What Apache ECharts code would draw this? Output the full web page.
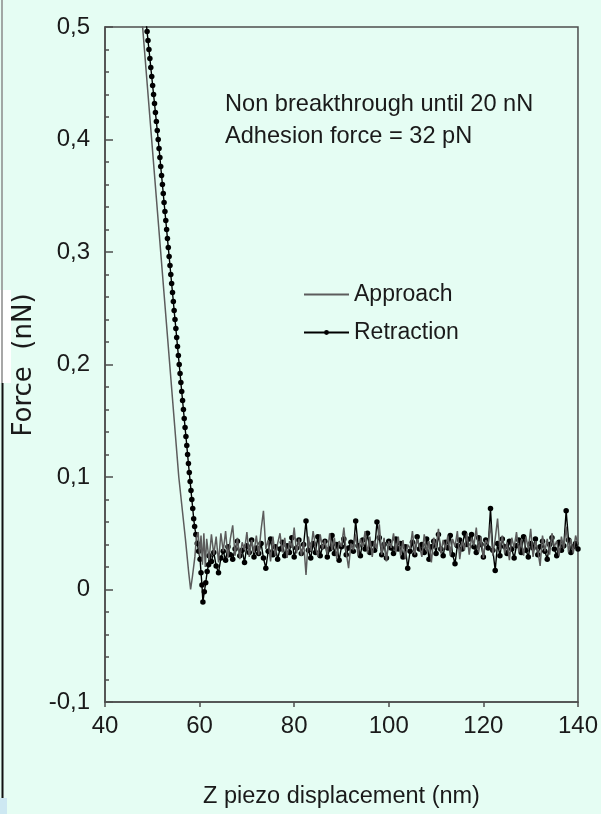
<!DOCTYPE html>
<html>
<head>
<meta charset="utf-8">
<script src="https://cdn.jsdelivr.net/npm/echarts@6/dist/echarts.min.js"></script>
<style>
html,body{margin:0;padding:0;background:#e5fdf3;overflow:hidden;}
#c{width:601px;height:814px;}
</style>
</head>
<body>
<div id="c"></div>
<script>
// ---- Data ----
const xTicks = [40, 60, 80, 100, 120, 140];
const xTickLabels = ['40', '60', '80', '100', '120', '140'];
const yTicks = [-0.1, 0, 0.1, 0.2, 0.3, 0.4, 0.5];
const yTickLabels = ['-0,1', '0', '0,1', '0,2', '0,3', '0,4', '0,5'];

// Approach: steep contact part and snap region
const approachHeadX = [47.57, 55.6, 57.0, 57.7, 58.1, 58.5, 59.0, 59.3, 59.7, 60.0, 60.3, 60.6, 60.9, 61.2, 61.5];
const approachHeadY = [0.52, 0.10, 0.045, 0.015, 0.0, 0.012, 0.029, 0.045, 0.051, 0.030, 0.048, 0.022, 0.050, 0.020, 0.045];

// Retraction: steep contact part and adhesion dip
const retractionHeadX = [48.31, 48.51, 48.70, 48.90, 49.09, 49.29, 49.49, 49.68, 49.88, 50.07,
  50.27, 50.47, 50.66, 50.86, 51.05, 51.25, 51.43, 51.61, 51.78, 51.96,
  52.14, 52.32, 52.49, 52.67, 52.85, 53.03, 53.20, 53.38, 53.56, 53.74,
  53.91, 54.09, 54.27, 54.45, 54.62, 54.80, 54.98, 55.16, 55.33, 55.51,
  55.69, 55.87, 56.04, 56.22, 56.40, 56.58, 56.75, 56.93, 57.11, 57.29,
  57.46, 57.64, 57.82, 58.00, 58.18, 58.36, 58.55, 58.75, 58.95, 59.2,
  59.5, 59.8, 60.1, 60.3, 60.5, 60.7, 61.0, 61.3, 61.6, 61.9];
const retractionHeadY = [0.520, 0.512, 0.504, 0.496, 0.488, 0.480, 0.472, 0.464, 0.456, 0.448,
  0.440, 0.432, 0.424, 0.416, 0.408, 0.400, 0.392, 0.384, 0.376, 0.368,
  0.360, 0.352, 0.344, 0.336, 0.328, 0.320, 0.312, 0.304, 0.296, 0.288,
  0.280, 0.272, 0.264, 0.256, 0.248, 0.240, 0.232, 0.224, 0.216, 0.208,
  0.200, 0.192, 0.184, 0.176, 0.168, 0.160, 0.152, 0.144, 0.136, 0.128,
  0.120, 0.112, 0.104, 0.096, 0.088, 0.080, 0.072, 0.063, 0.056, 0.049,
  0.041, 0.034, 0.027, 0.015, 0.004, -0.011, -0.002, 0.006, 0.016, 0.022];

// Non-contact (noise) region, shared Z positions
const zNoise = [62, 62.5, 63, 63.5, 64, 64.5, 65, 65.5, 66, 66.5,
  67, 67.5, 68, 68.5, 69, 69.5, 70, 70.5, 71, 71.5,
  72, 72.5, 73, 73.5, 74, 74.5, 75, 75.5, 76, 76.5,
  77, 77.5, 78, 78.5, 79, 79.5, 80, 80.5, 81, 81.5,
  82, 82.5, 83, 83.5, 84, 84.5, 85, 85.5, 86, 86.5,
  87, 87.5, 88, 88.5, 89, 89.5, 90, 90.5, 91, 91.5,
  92, 92.5, 93, 93.5, 94, 94.5, 95, 95.5, 96, 96.5,
  97, 97.5, 98, 98.5, 99, 99.5, 100, 100.5, 101, 101.5,
  102, 102.5, 103, 103.5, 104, 104.5, 105, 105.5, 106, 106.5,
  107, 107.5, 108, 108.5, 109, 109.5, 110, 110.5, 111, 111.5,
  112, 112.5, 113, 113.5, 114, 114.5, 115, 115.5, 116, 116.5,
  117, 117.5, 118, 118.5, 119, 119.5, 120, 120.5, 121, 121.5,
  122, 122.5, 123, 123.5, 124, 124.5, 125, 125.5, 126, 126.5,
  127, 127.5, 128, 128.5, 129, 129.5, 130, 130.5, 131, 131.5,
  132, 132.5, 133, 133.5, 134, 134.5, 135, 135.5, 136, 136.5,
  137, 137.5, 138, 138.5, 139, 139.5, 140];
const approachNoise = [0.026, 0.049, 0.031, 0.047, 0.024, 0.050, 0.034, 0.052, 0.028, 0.045,
  0.057, 0.030, 0.046, 0.027, 0.042, 0.035, 0.051, 0.029, 0.044, 0.033,
  0.048, 0.031, 0.053, 0.070, 0.036, 0.044, 0.025, 0.047, 0.030, 0.041,
  0.050, 0.033, 0.046, 0.028, 0.043, 0.037, 0.055, 0.032, 0.045, 0.030,
  0.042, 0.013, 0.047, 0.034, 0.052, 0.038, 0.029, 0.049, 0.036, 0.044,
  0.031, 0.050, 0.035, 0.046, 0.027, 0.043, 0.038, 0.055, 0.033, 0.019,
  0.041, 0.035, 0.049, 0.030, 0.045, 0.038, 0.052, 0.032, 0.047, 0.029,
  0.044, 0.036, 0.058, 0.031, 0.046, 0.025, 0.043, 0.037, 0.050, 0.033,
  0.047, 0.030, 0.044, 0.027, 0.040, 0.036, 0.052, 0.031, 0.045, 0.038,
  0.029, 0.049, 0.034, 0.043, 0.024, 0.046, 0.037, 0.054, 0.032, 0.044,
  0.036, 0.048, 0.030, 0.045, 0.038, 0.052, 0.027, 0.043, 0.035, 0.050,
  0.031, 0.046, 0.039, 0.055, 0.033, 0.047, 0.028, 0.044, 0.040, 0.058,
  0.030, 0.045, 0.063, 0.035, 0.048, 0.032, 0.042, 0.026, 0.046, 0.037,
  0.051, 0.033, 0.044, 0.030, 0.047, 0.036, 0.054, 0.029, 0.043, 0.035,
  0.021, 0.048, 0.034, 0.045, 0.031, 0.050, 0.038, 0.043, 0.030, 0.047,
  0.036, 0.056, 0.033, 0.045, 0.032, 0.048, 0.040];
const retractionNoise = [0.030, 0.025, 0.033, 0.021, 0.015, 0.028, 0.034, 0.026, 0.038, 0.031,
  0.027, 0.036, 0.043, 0.030, 0.035, 0.024, 0.039, 0.033, 0.044, 0.029,
  0.037, 0.032, 0.041, 0.028, 0.019, 0.034, 0.045, 0.031, 0.038, 0.027,
  0.036, 0.042, 0.030, 0.039, 0.033, 0.046, 0.029, 0.037, 0.044, 0.032,
  0.040, 0.061, 0.035, 0.028, 0.041, 0.033, 0.047, 0.030, 0.038, 0.043,
  0.029, 0.036, 0.048, 0.032, 0.040, 0.026, 0.038, 0.045, 0.031, 0.037,
  0.042, 0.034, 0.061, 0.039, 0.030, 0.044, 0.036, 0.050, 0.033, 0.041,
  0.035, 0.060, 0.046, 0.031, 0.040, 0.028, 0.043, 0.037, 0.032, 0.045,
  0.036, 0.041, 0.029, 0.038, 0.019, 0.034, 0.042, 0.031, 0.047, 0.036,
  0.040, 0.033, 0.045, 0.027, 0.038, 0.043, 0.032, 0.049, 0.036, 0.030,
  0.042, 0.037, 0.048, 0.031, 0.023, 0.039, 0.044, 0.036, 0.050, 0.040,
  0.045, 0.049, 0.038, 0.033, 0.046, 0.040, 0.029, 0.044, 0.037, 0.072,
  0.035, 0.017, 0.041, 0.030, 0.045, 0.038, 0.032, 0.043, 0.036, 0.028,
  0.039, 0.044, 0.033, 0.047, 0.035, 0.029, 0.041, 0.037, 0.045, 0.031,
  0.038, 0.043, 0.034, 0.027, 0.040, 0.046, 0.036, 0.030, 0.042, 0.035,
  0.039, 0.070, 0.044, 0.033, 0.038, 0.041, 0.036];

const annotationLines = ['Non breakthrough until 20 nN', 'Adhesion force = 32 pN'];

// ---- Build series data from the arrays ----
function pairs(xs, ys) { return xs.map((x, i) => [x, ys[i]]); }
const approachData = pairs(approachHeadX, approachHeadY).concat(pairs(zNoise, approachNoise));
const retractionData = pairs(retractionHeadX, retractionHeadY).concat(pairs(zNoise, retractionNoise));

function labelFor(ticks, labels, v) {
  for (let i = 0; i < ticks.length; i++) {
    if (Math.abs(ticks[i] - v) < 1e-9) return labels[i];
  }
  return '';
}

const axisColor = '#4d4d4d';
const sans = '"Liberation Sans", Arial, sans-serif';
const textColor = '#1a1a1a';

const chart = echarts.init(document.getElementById('c'), null, {renderer: 'canvas'});

chart.setOption({
  animation: false,
  backgroundColor: '#e5fdf3',
  grid: {
    left: 105, right: 22, top: 27, bottom: 106,
    show: true, borderColor: axisColor, borderWidth: 1.5, backgroundColor: 'transparent'
  },
  legend: {
    data: [
      {name: 'Approach', itemStyle: {opacity: 0}},
      {name: 'Retraction'}
    ],
    orient: 'vertical',
    left: 303, top: 283, padding: 0,
    itemWidth: 45, itemHeight: 6, itemGap: 15,
    textStyle: {fontFamily: sans, fontSize: 23, color: textColor, lineHeight: 23}
  },
  xAxis: {
    type: 'value', min: 40, max: 140, interval: 20,
    name: 'Z piezo displacement (nm)', nameLocation: 'middle', nameGap: 83,
    nameTextStyle: {fontFamily: sans, fontSize: 23.5, color: textColor},
    axisLine: {show: true, onZero: false, lineStyle: {color: axisColor, width: 1.5}},
    axisTick: {show: true, inside: false, length: 5, lineStyle: {color: axisColor, width: 1.5}},
    splitLine: {show: false},
    axisLabel: {fontFamily: sans, fontSize: 24, color: textColor, margin: 12,
      formatter: v => labelFor(xTicks, xTickLabels, v)}
  },
  yAxis: {
    type: 'value', min: -0.1, max: 0.5, interval: 0.1,
    axisLine: {show: true, onZero: false, lineStyle: {color: axisColor, width: 1.5}},
    axisTick: {show: true, inside: true, length: 8, lineStyle: {color: axisColor, width: 1.5}},
    minorTick: {show: true, splitNumber: 5, length: 4, lineStyle: {color: axisColor, width: 1.5}},
    splitLine: {show: false},
    axisLabel: {fontFamily: sans, fontSize: 24, color: textColor, margin: 15,
      padding: [0, 0, 16, 0],
      formatter: v => labelFor(yTicks, yTickLabels, v)}
  },
  series: [
    {
      name: 'Retraction', type: 'line', data: retractionData,
      showSymbol: true, showAllSymbol: true, symbol: 'circle', symbolSize: 5.5,
      lineStyle: {color: '#000', width: 1.4}, itemStyle: {color: '#000'},
      z: 2
    },
    {
      name: 'Approach', type: 'line', data: approachData,
      showSymbol: false, symbol: 'none',
      lineStyle: {color: '#5c5c5c', width: 1.5}, itemStyle: {color: '#3a3a3a'},
      z: 3
    }
  ],
  graphic: [
    {type: 'text', left: 225, top: 92, style: {text: annotationLines[0], fontFamily: sans, fontSize: 23.6, fill: textColor}},
    {type: 'text', left: 225, top: 124, style: {text: annotationLines[1], fontFamily: sans, fontSize: 23.6, fill: textColor}},
    {type: 'text', x: 24, y: 365, rotation: Math.PI / 2,
      style: {text: 'Force  (nN)', fontFamily: '"DejaVu Sans", Verdana, sans-serif', fontSize: 26, fill: textColor, align: 'center', verticalAlign: 'middle'}},
    {type: 'rect', shape: {x: 0, y: 290, width: 11, height: 93}, style: {fill: '#ffffff'}, z: -1},
    {type: 'line', shape: {x1: 2, y1: 0, x2: 2, y2: 383}, style: {stroke: '#8a8a8a', lineWidth: 1.5}},
    {type: 'line', shape: {x1: 2.5, y1: 383, x2: 2.5, y2: 814}, style: {stroke: '#111', lineWidth: 2}},
    {type: 'rect', shape: {x: 0, y: 798, width: 7, height: 16}, style: {fill: '#cde8f2'}}
  ]
});
</script>
</body>
</html>
